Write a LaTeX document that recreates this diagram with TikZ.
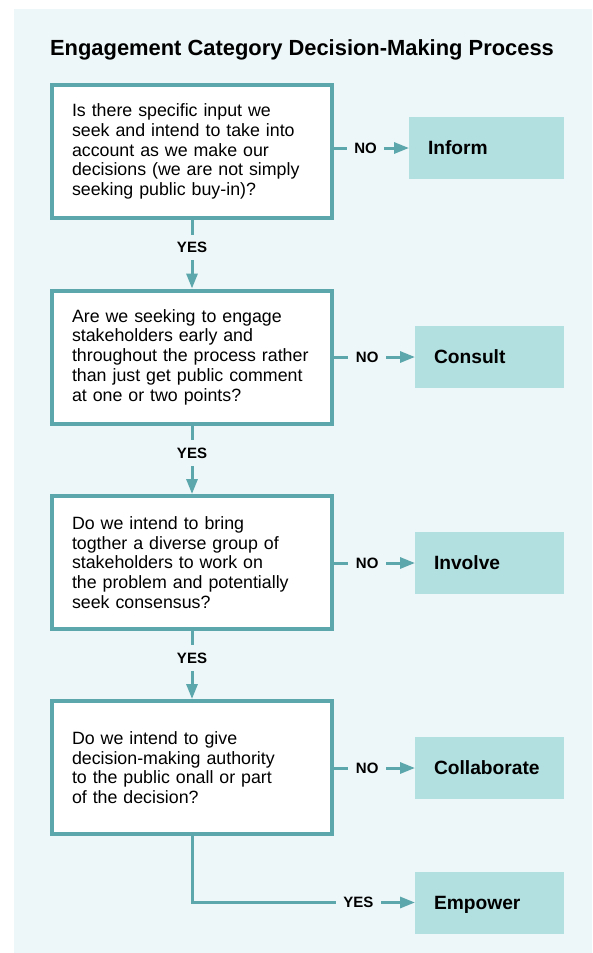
\documentclass[tikz,border=0pt]{standalone}
\usepackage{fontspec}
\setmainfont{Liberation Sans}
\usetikzlibrary{arrows.meta}

\definecolor{panelbg}{RGB}{237,246,248}
\definecolor{edgeteal}{RGB}{91,167,172}
\definecolor{catfill}{RGB}{178,223,224}

\begin{document}
\begin{tikzpicture}[x=1pt,y=-1pt,
  question/.style={draw=edgeteal, line width=4pt, fill=white,
    minimum width=280pt, minimum height=133pt, text width=240pt,
    inner xsep=20pt, align=left, font=\fontsize{17.8}{19.7}\selectfont},
  category/.style={fill=catfill, minimum height=62pt, inner xsep=19pt,
    outer sep=0pt, align=left, text height=13.7pt, text depth=0pt,
    font=\fontsize{19.2}{22}\selectfont\bfseries},
  link/.style={draw=edgeteal, line width=3pt,
    -{Triangle[length=15pt,width=11pt]}},
  answer/.style={fill=panelbg, inner xsep=7.5pt, inner ysep=7.5pt,
    text height=10.7pt, text depth=0pt,
    font=\fontsize{15}{18}\selectfont\bfseries},
]
  % page and panel
  \useasboundingbox (0,0) rectangle (592,953);
  \fill[white] (0,0) rectangle (592,953);
  \fill[panelbg] (14,9) rectangle (592,953);

  \node[anchor=base, font=\fontsize{21.9}{26}\selectfont\bfseries] (title) at (302,55)
    {Engagement Category Decision-Making Process};

  % decision questions
  \node[question] (q1) at (192,151.5) {Is there specific input we\\seek and intend to take into\\account as we make our\\decisions (we are not simply\\seeking public buy-in)?};
  \node[question] (q2) at (192,357) {Are we seeking to engage\\stakeholders early and\\throughout the process rather\\than just get public comment\\at one or two points?};
  \node[question] (q3) at (192,562.5) {Do we intend to bring\\togther a diverse group of\\stakeholders to work on\\the problem and potentially\\seek consensus?};
  \node[question] (q4) at (192,767.5) {Do we intend to give\\decision-making authority\\to the public onall or part\\of the decision?};

  % engagement categories
  \node[category, text width=117pt] (c1) at (486.5,148) {Inform};
  \node[category, text width=111pt] (c2) at (489.5,357) {Consult};
  \node[category, text width=111pt] (c3) at (489.5,563) {Involve};
  \node[category, text width=111pt] (c4) at (489.5,768) {Collaborate};
  \node[category, text width=111pt] (c5) at (489.5,902.5) {Empower};

  % NO branches
  \draw[link] (q1.east |- c1.west) -- node[answer, pos=0.42] {NO} (c1.west);
  \draw[link] (q2.east |- c2.west) -- node[answer, pos=0.41] {NO} (c2.west);
  \draw[link] (q3.east |- c3.west) -- node[answer, pos=0.41] {NO} (c3.west);
  \draw[link] (q4.east |- c4.west) -- node[answer, pos=0.41] {NO} (c4.west);

  % YES branches
  \draw[link] (q1.south) -- node[answer, pos=0.4] {YES} (q2.north);
  \draw[link] (q2.south) -- node[answer, pos=0.4] {YES} (q3.north);
  \draw[link] (q3.south) -- node[answer, pos=0.4] {YES} (q4.north);
  \draw[link] (q4.south) |- node[answer, pos=0.873] {YES} (c5.west);
\end{tikzpicture}
\end{document}
